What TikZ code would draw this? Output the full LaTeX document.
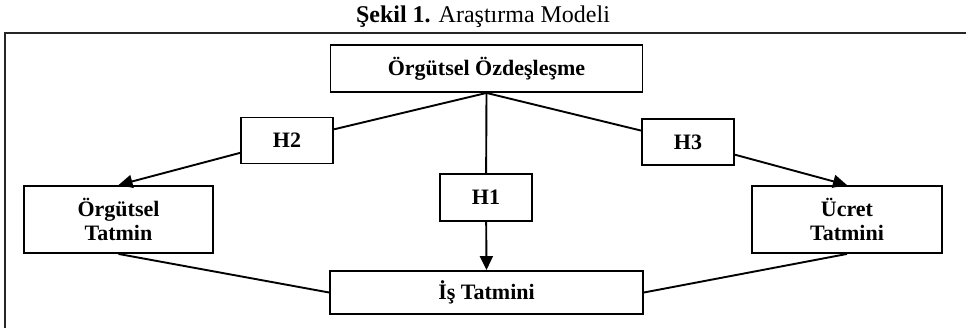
\documentclass[tikz,border=0pt]{standalone}
\usepackage{fontspec}
\setmainfont{Liberation Serif}
\usepackage{tikz}
\usetikzlibrary{arrows.meta}

\begin{document}
\begin{tikzpicture}[x=1pt,y=-1pt,
        varbox/.style={draw,line width=1.9pt,align=center,inner sep=0pt,
            font=\fontsize{22}{24}\selectfont\bfseries},
        hypbox/.style={varbox,minimum width=92pt,minimum height=46pt},
        link/.style={line width=1.9pt},
        effect/.style={link,-{Triangle[length=14pt,width=13pt]}}]
        \useasboundingbox (0,0) rectangle (966,328);
        \draw[line width=2pt,black!85] (5,33) rectangle (980,345);
        \node[font=\fontsize{24}{26}\selectfont] (title) at (483,17) {\textbf{Şekil 1.} Araştırma Modeli};
        \node[varbox,minimum width=312pt,minimum height=47pt] (oz) at (486.5,68.5) {Örgütsel Özdeşleşme};
        \node[hypbox] (h2) at (287,140.5) {H2};
        \node[hypbox] (h3) at (688,142) {H3};
        \node[hypbox,minimum height=47pt] (h1) at (486,197.5) {H1};
        \node[varbox,minimum width=189pt,minimum height=67pt] (ort) at (118.5,219.5) {Örgütsel\\Tatmin};
        \node[varbox,minimum width=190pt,minimum height=67pt] (uct) at (847,219.5) {Ücret\\Tatmini};
        \node[varbox,minimum width=313pt,minimum height=43pt] (ist) at (486.5,292.5) {İş Tatmini};
        \coordinate (j) at (oz.south);
        \draw[link] (j)--(h2);
        \draw[link] (j)--(h1);
        \draw[link] (j)--(h3);
        \draw[effect] (h2)--(ort.north);
        \draw[effect] (h1)--(ist.north);
        \draw[effect] (h3)--(uct.north);
        \draw[link] (ort.south)--(ist.west);
        \draw[link] (uct.south)--(ist.east);
    \end{tikzpicture}
\end{document}
